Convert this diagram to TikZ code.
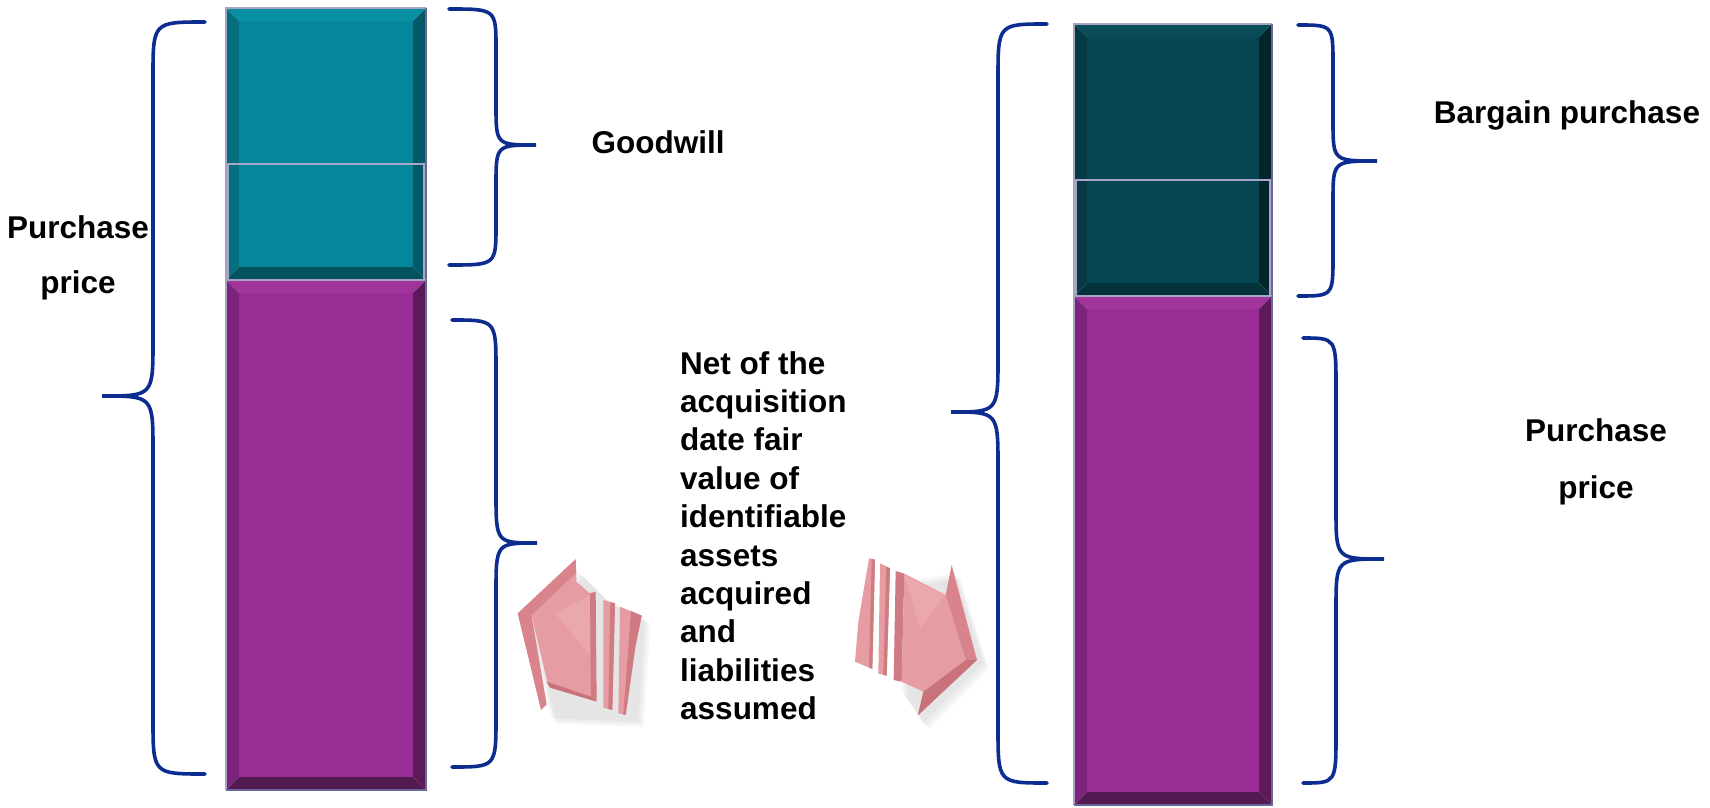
\documentclass[tikz,border=0pt]{standalone}
\usepackage{fontspec}
\setmainfont{Liberation Sans}
\usetikzlibrary{positioning}
\definecolor{tealface}{HTML}{06869A}
\definecolor{tealtop}{HTML}{0790A3}
\definecolor{tealleft}{HTML}{056F7F}
\definecolor{tealright}{HTML}{045966}
\definecolor{tealbottom}{HTML}{04525D}
\definecolor{deepface}{HTML}{064652}
\definecolor{deeptop}{HTML}{074C58}
\definecolor{deepleft}{HTML}{053A44}
\definecolor{deepright}{HTML}{02262C}
\definecolor{deepbottom}{HTML}{03323A}
\definecolor{purpface}{HTML}{9A2C96}
\definecolor{purptop}{HTML}{A0339C}
\definecolor{purpleft}{HTML}{7E237B}
\definecolor{purpright}{HTML}{5C1A59}
\definecolor{purpbottom}{HTML}{521A50}
\definecolor{braceblue}{HTML}{0C2D8F}
\definecolor{pinkface}{HTML}{E59CA2}
\definecolor{pinklight}{HTML}{EAA8AD}
\definecolor{pinkplate}{HTML}{D9848C}
\definecolor{pinkedge}{HTML}{D07A82}
\definecolor{pinkdark}{HTML}{C8727A}
\def\bev{13}

% block with bevelled sides: x1 y1 x2 y2 face top left right bottom
\newcommand{\bevelblock}[9]{%
  \fill[#6] (#1,#2) -- (#3,#2) -- (#3-\bev,#2+\bev) -- (#1+\bev,#2+\bev) -- cycle;
  \fill[#7] (#1,#2) -- (#1+\bev,#2+\bev) -- (#1+\bev,#4-\bev) -- (#1,#4) -- cycle;
  \fill[#8] (#3,#2) -- (#3-\bev,#2+\bev) -- (#3-\bev,#4-\bev) -- (#3,#4) -- cycle;
  \fill[#9] (#1,#4) -- (#1+\bev,#4-\bev) -- (#3-\bev,#4-\bev) -- (#3,#4) -- cycle;
  \fill[#5] (#1+\bev,#2+\bev) rectangle (#3-\bev,#4-\bev);
  \draw[bar edge] (#1,#4) -- (#1,#2) -- (#3,#2);
  \draw[bar shade] (#3,#2) -- (#3,#4) -- (#1,#4);
}
% curly brace: x of stem, x of tip, x of ends, y top, y tip, y bottom, curl
\newcommand{\curlybrace}[7]{%
  \draw[brace line] (#3,#4) .. controls (#1,#4) .. (#1,#4+#7) -- (#1,#5-#7)
    .. controls (#1,#5) .. (#2,#5) .. controls (#1,#5) .. (#1,#5+#7)
    -- (#1,#6-#7) .. controls (#1,#6) .. (#3,#6);
}

\begin{document}
\begin{tikzpicture}[x=1pt,y=-1pt]
    \tikzstyle{bar edge}=[line width=1.5pt, draw=blue!20!gray!60]
    \tikzstyle{bar shade}=[line width=1.5pt, draw=gray!80!blue]
    \tikzstyle{inner line}=[line width=1.2pt, draw=blue!25!gray!55]
    \tikzstyle{brace line}=[line width=3.6pt, draw=braceblue, line cap=round]
    \tikzstyle{label text}=[font=\bfseries\fontsize{31.5}{38.4}\selectfont, inner sep=0pt]
    \tikzstyle{soft shadow}=[fill=black, opacity=0.035]

    \useasboundingbox (0,0) rectangle (1710,808);

    % left column
    \bevelblock{226}{8}{426}{280}{tealface}{tealtop}{tealleft}{tealright}{tealbottom}
    \draw[inner line] (228,164) rectangle (424,280);
    \bevelblock{226}{280}{426}{790}{purpface}{purptop}{purpleft}{purpright}{purpbottom}

    % right column
    \bevelblock{1074}{24}{1272}{296}{deepface}{deeptop}{deepleft}{deepright}{deepbottom}
    \draw[inner line] (1076,180) rectangle (1270,296);
    \bevelblock{1074}{296}{1272}{805}{purpface}{purptop}{purpleft}{purpright}{purpbottom}

    % braces
    \curlybrace{153}{102}{205}{22}{396}{774}{55}
    \curlybrace{496}{536}{449}{9}{145}{265}{40}
    \curlybrace{496}{537}{452}{320}{543}{767}{50}
    \curlybrace{998}{951}{1047}{24}{412}{783}{55}
    \curlybrace{1333}{1377}{1298}{25}{161}{296}{40}
    \curlybrace{1336}{1384}{1303}{338}{559}{783}{50}

    % left arrow
    \begin{scope}[shift={(505,545)}, scale=1/3]
        \foreach \d in {0,8,16}
            \fill[soft shadow, shift={(\d,\d)}] (70,240) -- (220,80) -- (300,160) -- (420,225) -- (400,530) -- (140,520) -- cycle;
        \fill[pinkplate] (38,205) -- (212,42) -- (214,85) -- (80,212) -- (125,478) -- (108,495) -- cycle;
        \fill[pinkface] (80,212) -- (214,85) -- (214,110) -- (258,148) -- (258,455) -- (128,415) -- cycle;
        \fill[pinklight] (150,205) -- (255,150) -- (255,330) -- cycle;
        \fill[pinkedge] (255,145) -- (272,140) -- (275,468) -- (258,458) -- cycle;
        \fill[pinkdark] (125,410) -- (258,455) -- (275,470) -- (135,428) -- cycle;
        \fill[pinkface] (295,165) -- (330,175) -- (322,495) -- (295,488) -- cycle;
        \fill[pinkedge] (316,171) -- (330,175) -- (322,495) -- (310,492) -- cycle;
        \fill[pinkface] (345,185) -- (410,212) -- (392,300) -- (362,510) -- (340,505) -- cycle;
        \fill[pinkedge] (378,198) -- (410,212) -- (392,300) -- (362,510) -- (355,508) -- cycle;
    \end{scope}

    % right arrow
    \begin{scope}[shift={(855,545)}, scale=1/3]
        \foreach \d in {0,8,16}
            \fill[soft shadow, shift={(\d,\d)}] (140,110) -- (300,85) -- (385,355) -- (205,535) -- (140,440) -- cycle;
        \fill[pinkface] (42,40) -- (60,44) -- (52,372) -- (0,350) -- (10,230) -- cycle;
        \fill[pinkedge] (50,42) -- (60,44) -- (52,372) -- (42,368) -- cycle;
        \fill[pinkface] (75,55) -- (105,70) -- (95,392) -- (70,386) -- cycle;
        \fill[pinkedge] (94,65) -- (105,70) -- (95,392) -- (85,390) -- cycle;
        \fill[pinkedge] (122,78) -- (148,86) -- (140,410) -- (116,405) -- cycle;
        \fill[pinkface] (148,86) -- (272,150) -- (332,345) -- (205,440) -- (140,410) -- cycle;
        \fill[pinklight] (148,90) -- (270,150) -- (195,250) -- cycle;
        \fill[pinkplate] (272,150) -- (290,60) -- (366,345) -- (332,345) -- cycle;
        \fill[pinkdark] (332,345) -- (366,345) -- (188,512) -- (205,440) -- cycle;
    \end{scope}

    % labels
    \node[label text, align=center, font=\bfseries\fontsize{31.5}{55}\selectfont] (price left) at (78,258) {Purchase\\price};
    \node[label text] (goodwill) at (658,142) {Goodwill};
    \node[label text, align=left, anchor=north west] (net value) at (680,351)
        {Net of the\\acquisition\\date fair\\value of\\identifiable\\assets\\acquired\\and\\liabilities\\assumed};
    \node[label text] (bargain) at (1567,115) {Bargain purchase};
    \node[label text, align=center, font=\bfseries\fontsize{31.5}{57}\selectfont] (price right) at (1596,462) {Purchase\\price};
\end{tikzpicture}
\end{document}
